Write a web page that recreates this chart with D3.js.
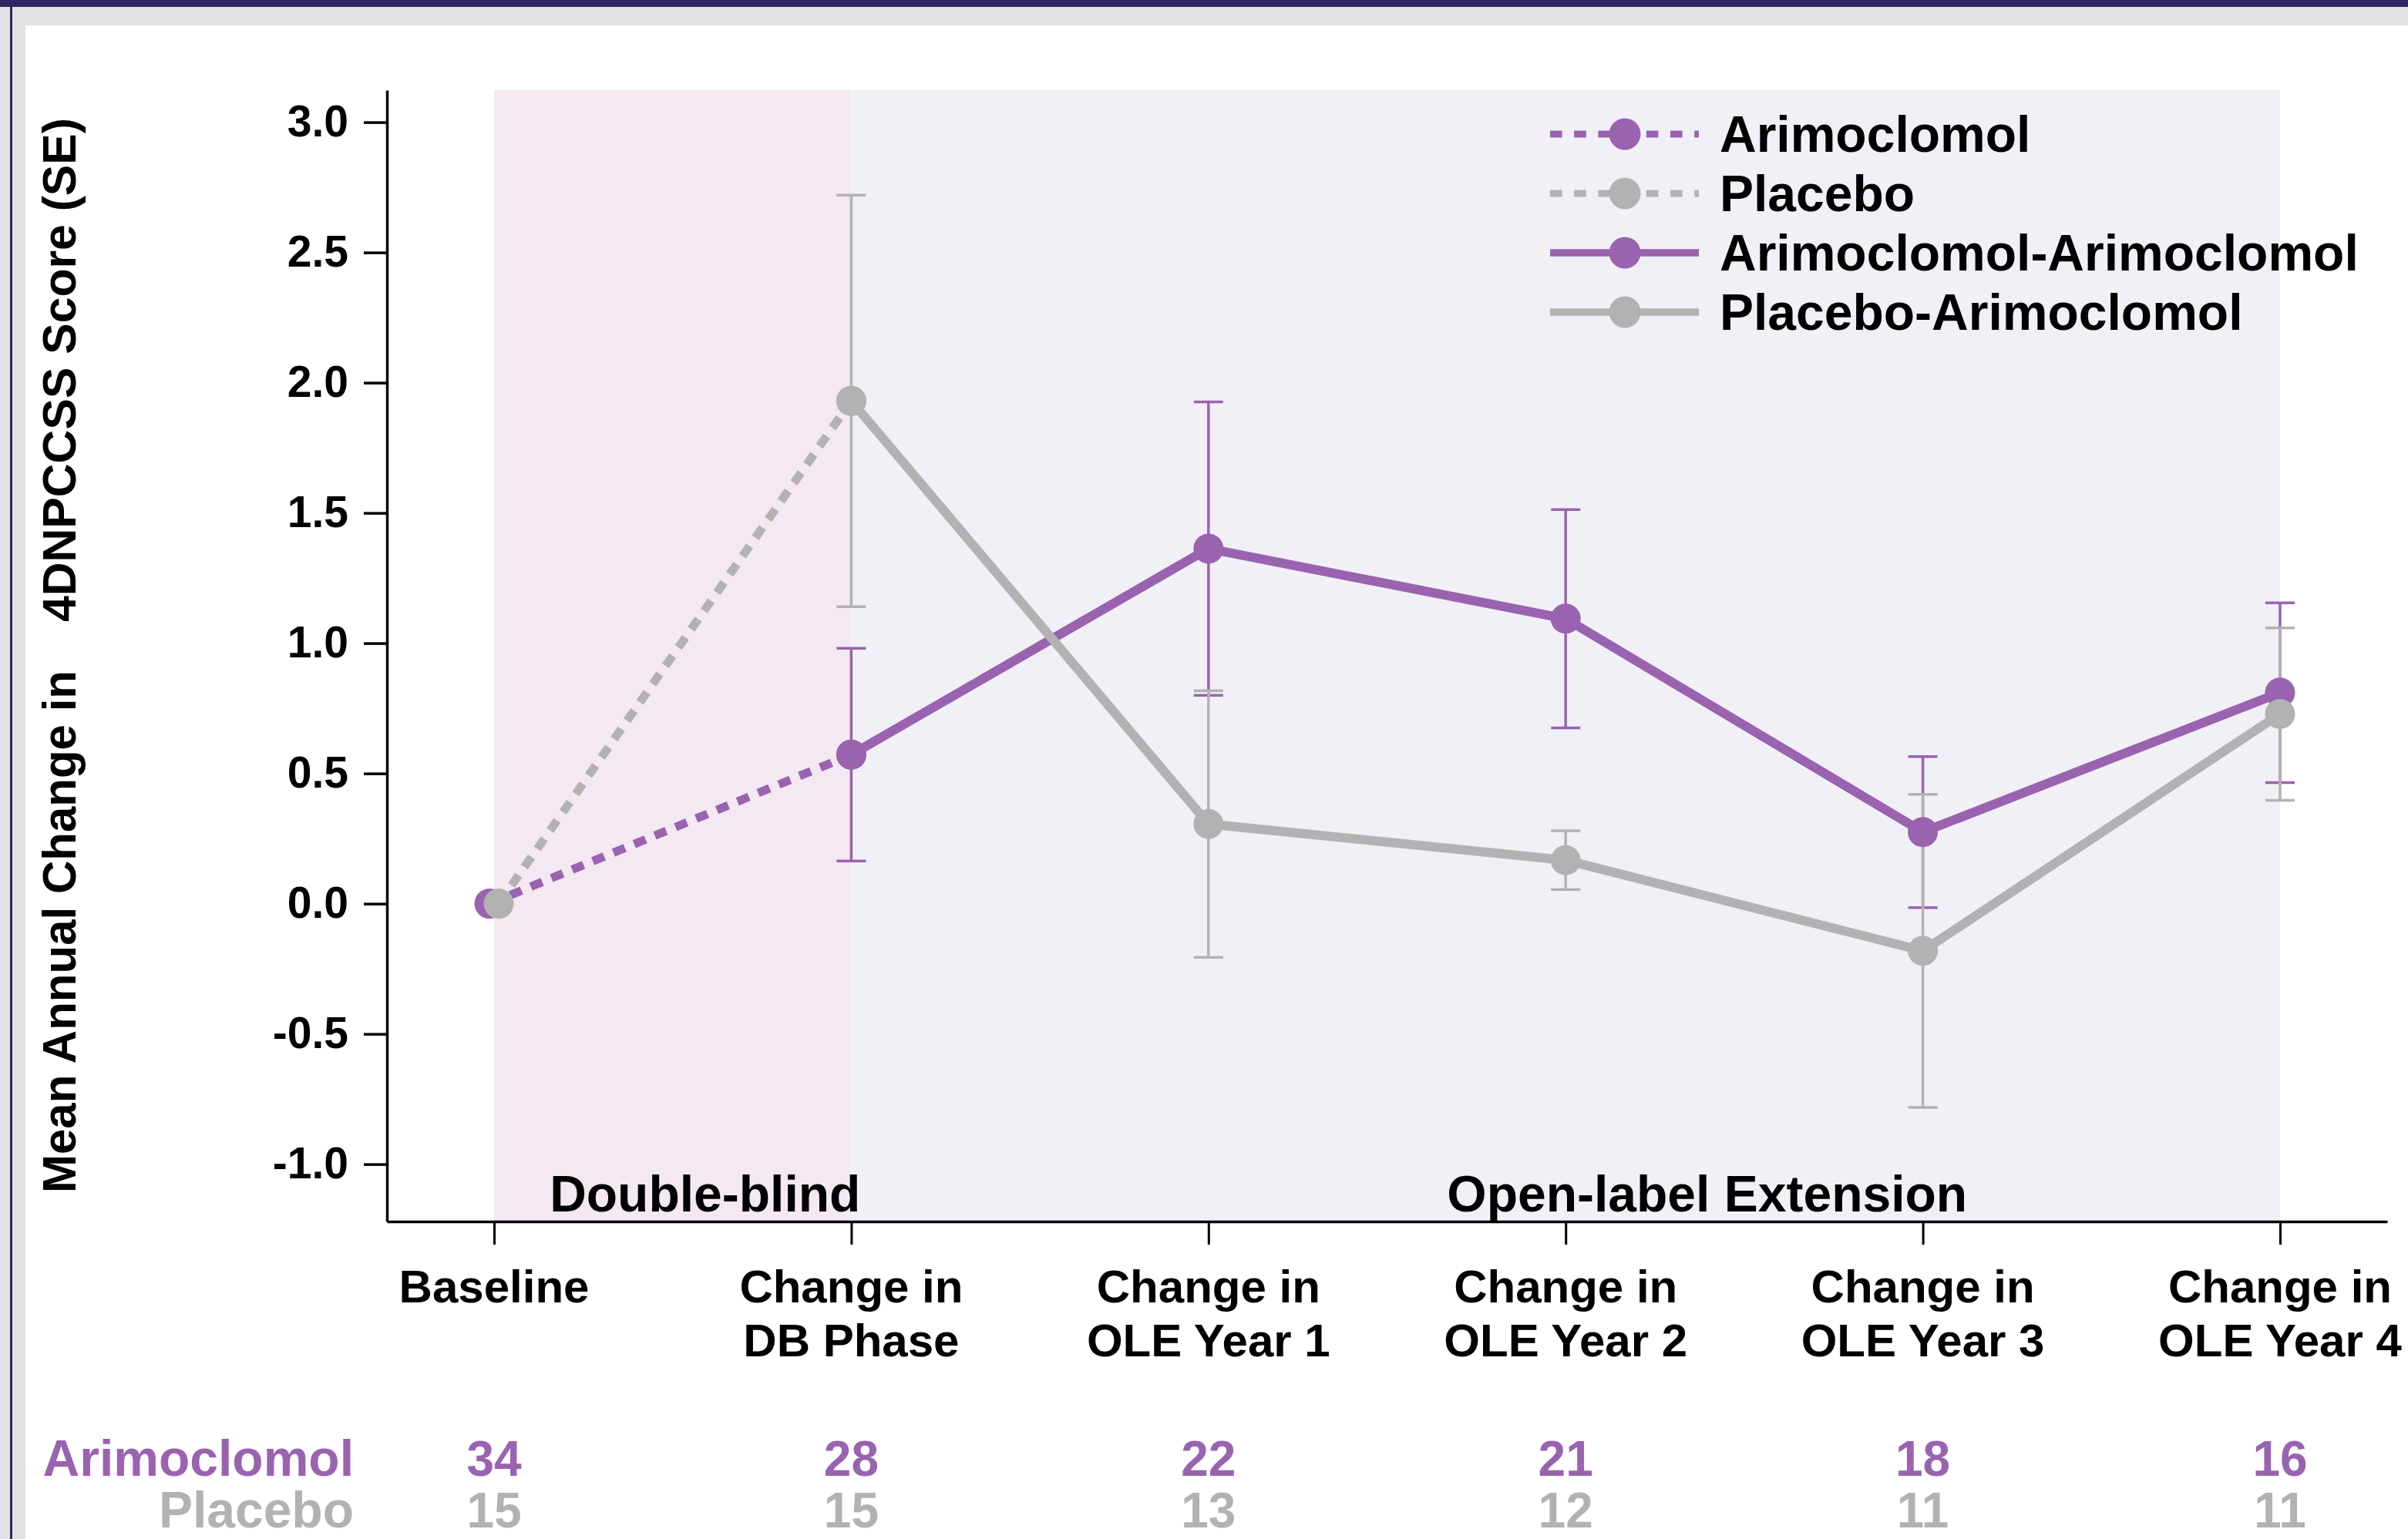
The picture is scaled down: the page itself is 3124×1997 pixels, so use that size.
<!DOCTYPE html>
<html>
<head>
<meta charset="utf-8">
<script src="https://cdn.jsdelivr.net/npm/d3@7/dist/d3.min.js"></script>
<style>
  html, body { margin: 0; padding: 0; background: #ffffff; }
  svg { display: block; }
  text { font-family: "Liberation Sans", Arial, sans-serif; font-weight: bold; }
</style>
</head>
<body>
<svg id="chart" width="3124" height="1997"></svg>
<script>
// ---------------- DATA ----------------
const categories = ["Baseline", "DB", "Y1", "Y2", "Y3", "Y4"];
const categoryLabels = [
  ["Baseline"],
  ["Change in", "DB Phase"],
  ["Change in", "OLE Year 1"],
  ["Change in", "OLE Year 2"],
  ["Change in", "OLE Year 3"],
  ["Change in", "OLE Year 4"]
];
const yTickValues = [-1.0, -0.5, 0.0, 0.5, 1.0, 1.5, 2.0, 2.5, 3.0];

// Double-blind phase (dotted)
const dbCategories = ["Baseline", "DB"];
const arimoDB = [0, 0.572];
const arimoDBse = [null, 0.408];
const placeboDB = [0, 1.930];
const placeboDBse = [null, 0.790];

// Open-label extension (solid)
const oleCategories = ["DB", "Y1", "Y2", "Y3", "Y4"];
const arimoArimo = [0.572, 1.363, 1.094, 0.275, 0.810];
const arimoArimoSe = [null, 0.563, 0.419, 0.290, 0.345];
const placeboArimo = [1.930, 0.306, 0.167, -0.181, 0.728];
const placeboArimoSe = [null, 0.512, 0.113, 0.601, 0.331];

// Patients at each visit
const arimoN = [34, 28, 22, 21, 18, 16];
const placeboN = [15, 15, 13, 12, 11, 11];

const legendLabels = ["Arimoclomol", "Placebo", "Arimoclomol-Arimoclomol", "Placebo-Arimoclomol"];
const yAxisTitleParts = ["Mean Annual Change in", "4DNPCCSS Score (SE)"];
const phaseLabels = ["Double-blind", "Open-label Extension"];

// ---------------- STYLE ----------------
const PURPLE = "#9963b0";
const GRAY = "#b2b2b2";
const PINK_BAND = "#f4e8f2";
const LAV_BAND = "#f1f0f6";
const FRAME_GRAY = "#e3e3e6";
const FRAME_DARK = "#2f2760";

const svg = d3.select("#chart");

// page frame
svg.append("rect").attr("x", 0).attr("y", 0).attr("width", 3124).attr("height", 1997).attr("fill", "#ffffff");
svg.append("rect").attr("x", 0).attr("y", 0).attr("width", 3124).attr("height", 33).attr("fill", FRAME_GRAY);
svg.append("rect").attr("x", 0).attr("y", 0).attr("width", 33).attr("height", 1997).attr("fill", FRAME_GRAY);
svg.append("rect").attr("x", 0).attr("y", 0).attr("width", 3124).attr("height", 9).attr("fill", FRAME_DARK);
svg.append("rect").attr("x", 13).attr("y", 0).attr("width", 3).attr("height", 1997).attr("fill", FRAME_DARK);

// ---------------- SCALES ----------------
const x = d3.scalePoint().domain(categories).range([502, 3097]).padding(0.3);
const y = d3.scaleLinear().domain([-1.22, 3.123]).range([1585, 117]);
const step = x.step();

// background phase bands
svg.append("rect")
  .attr("x", x("Baseline")).attr("y", y(3.123))
  .attr("width", x("DB") - x("Baseline")).attr("height", y(-1.22) - y(3.123))
  .attr("fill", PINK_BAND);
svg.append("rect")
  .attr("x", x("DB")).attr("y", y(3.123))
  .attr("width", x("Y4") - x("DB")).attr("height", y(-1.22) - y(3.123))
  .attr("fill", LAV_BAND);

// phase labels
svg.append("text").attr("x", x("DB") + 12).attr("y", 1572)
  .attr("text-anchor", "end").attr("font-size", 66).attr("fill", "#000")
  .text(phaseLabels[0]);
svg.append("text").attr("x", x("Y1") + step * 0.668).attr("y", 1572)
  .attr("text-anchor", "start").attr("font-size", 66).attr("fill", "#000")
  .text(phaseLabels[1]);

// ---------------- AXES ----------------
const yAxis = d3.axisLeft(y).tickValues(yTickValues).tickSize(30).tickSizeOuter(0).tickPadding(20)
  .tickFormat(d => d.toFixed(1));
const gy = svg.append("g").attr("transform", "translate(502,0)").call(yAxis);
gy.select(".domain").attr("stroke", "#000").attr("stroke-width", 3.5);
gy.selectAll(".tick line").attr("stroke", "#000").attr("stroke-width", 3.5);
gy.selectAll(".tick text").attr("font-size", 57).attr("fill", "#000")
  .attr("font-family", "'Liberation Sans', Arial, sans-serif").attr("font-weight", "bold");

const xAxis = d3.axisBottom(x).tickSize(30).tickSizeOuter(0).tickFormat("");
const gx = svg.append("g").attr("transform", "translate(0,1585)").call(xAxis);
gx.select(".domain").attr("stroke", "#000").attr("stroke-width", 3.5);
gx.selectAll(".tick line").attr("stroke", "#000").attr("stroke-width", 3);

// multi-line category labels
const catG = svg.append("g");
categories.forEach((c, i) => {
  const t = catG.append("text").attr("text-anchor", "middle").attr("font-size", 60).attr("fill", "#000");
  categoryLabels[i].forEach((line, j) => {
    t.append("tspan").attr("x", x(c)).attr("y", 1690 + j * 70).text(line);
  });
});

// y-axis title (rotated)
svg.append("text")
  .attr("transform", "translate(98,1548) rotate(-90)")
  .attr("text-anchor", "start").attr("font-size", 61).attr("fill", "#000")
  .attr("textLength", 678).attr("lengthAdjust", "spacingAndGlyphs")
  .text(yAxisTitleParts[0]);
svg.append("text")
  .attr("transform", "translate(98,807) rotate(-90)")
  .attr("text-anchor", "start").attr("font-size", 61).attr("fill", "#000")
  .attr("textLength", 654).attr("lengthAdjust", "spacingAndGlyphs")
  .text(yAxisTitleParts[1]);

// ---------------- SERIES ----------------
const DODGE = 6;
function makeSeries(cats, vals, ses, color, dashed, dodgeSign, otherVals) {
  return cats.map((c, i) => ({
    cat: c, v: vals[i], se: ses[i], color, dashed,
    dx: (otherVals && otherVals[i] === vals[i]) ? dodgeSign * DODGE : 0
  }));
}
const sArimoDB = makeSeries(dbCategories, arimoDB, arimoDBse, PURPLE, true, -1, placeboDB);
const sPlaceboDB = makeSeries(dbCategories, placeboDB, placeboDBse, GRAY, true, 1, arimoDB);
const sAA = makeSeries(oleCategories, arimoArimo, arimoArimoSe, PURPLE, false, 0, null);
const sPA = makeSeries(oleCategories, placeboArimo, placeboArimoSe, GRAY, false, 0, null);

const allSeries = [sArimoDB, sPlaceboDB, sAA, sPA];

// error bars
const ebG = svg.append("g");
[sArimoDB, sAA, sPlaceboDB, sPA].forEach(s => {
  s.filter(d => d.se != null).forEach(d => {
    const cx = x(d.cat) + d.dx;
    ebG.append("line").attr("x1", cx).attr("x2", cx)
      .attr("y1", y(d.v + d.se)).attr("y2", y(d.v - d.se))
      .attr("stroke", d.color).attr("stroke-width", 3.5);
    [d.v + d.se, d.v - d.se].forEach(e => {
      ebG.append("line").attr("x1", cx - 19).attr("x2", cx + 19)
        .attr("y1", y(e)).attr("y2", y(e))
        .attr("stroke", d.color).attr("stroke-width", 3.5);
    });
  });
});

// lines
const line = d3.line().x(d => x(d.cat) + d.dx).y(d => y(d.v));
const lineG = svg.append("g");
allSeries.forEach(s => {
  lineG.append("path").datum(s).attr("d", line)
    .attr("fill", "none").attr("stroke", s[0].color)
    .attr("stroke-width", s[0].dashed ? 11 : 12)
    .attr("stroke-dasharray", s[0].dashed ? "16,13" : null)
    .attr("stroke-linejoin", "round");
});

// markers
const mG = svg.append("g");
[sArimoDB, sAA, sPlaceboDB, sPA].forEach(s => {
  mG.selectAll(null).data(s).enter().append("circle")
    .attr("cx", d => x(d.cat) + d.dx).attr("cy", d => y(d.v))
    .attr("r", 19.5).attr("fill", d => d.color);
});

// ---------------- LEGEND ----------------
const legendItems = [
  { label: legendLabels[0], color: PURPLE, dashed: true },
  { label: legendLabels[1], color: GRAY, dashed: true },
  { label: legendLabels[2], color: PURPLE, dashed: false },
  { label: legendLabels[3], color: GRAY, dashed: false }
];
const legG = svg.append("g").attr("transform", "translate(2011,174)");
legendItems.forEach((it, i) => {
  const g = legG.append("g").attr("transform", `translate(0,${i * 77})`);
  g.append("line").attr("x1", 0).attr("x2", 193).attr("y1", 0).attr("y2", 0)
    .attr("stroke", it.color).attr("stroke-width", it.dashed ? 9 : 9.5)
    .attr("stroke-dasharray", it.dashed ? "15.6,15.6" : null);
  g.append("circle").attr("cx", 97).attr("cy", 0).attr("r", 20.5).attr("fill", it.color);
  g.append("text").attr("x", 220).attr("y", 23).attr("font-size", 66).attr("fill", "#000").text(it.label);
});

// ---------------- N TABLE ----------------
const nRows = [
  { label: "Arimoclomol", values: arimoN, color: PURPLE, y: 1915 },
  { label: "Placebo", values: placeboN, color: GRAY, y: 1982 }
];
nRows.forEach(r => {
  svg.append("text").attr("x", 459).attr("y", r.y).attr("text-anchor", "end")
    .attr("font-size", 66).attr("fill", r.color).text(r.label);
  categories.forEach((c, i) => {
    svg.append("text").attr("x", x(c)).attr("y", r.y).attr("text-anchor", "middle")
      .attr("font-size", 64).attr("fill", r.color).text(r.values[i]);
  });
});
</script>
</body>
</html>
